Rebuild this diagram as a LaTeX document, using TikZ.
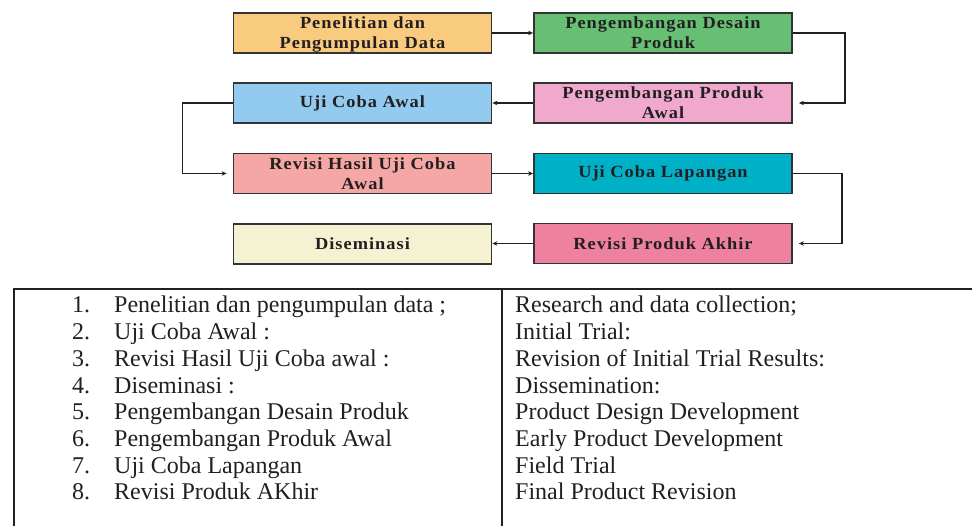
\documentclass[tikz,border=0pt]{standalone}
\usepackage{fontspec}
\setmainfont{Liberation Serif}
\newfontfamily\boxfont{Liberation Serif}[LetterSpace=6,FakeStretch=1.08]
\usetikzlibrary{arrows.meta}
\definecolor{cA}{HTML}{F8CB7F}
\definecolor{cB}{HTML}{66BF73}
\definecolor{cC}{HTML}{92CBEF}
\definecolor{cD}{HTML}{F0A9CD}
\definecolor{cE}{HTML}{F4A7A4}
\definecolor{cF}{HTML}{00B0C7}
\definecolor{cG}{HTML}{F4F2D3}
\definecolor{cH}{HTML}{EE819F}
\definecolor{boxline}{HTML}{333333}
\definecolor{txt}{HTML}{231F20}
\begin{document}
\begin{tikzpicture}[x=1pt,y=-1pt,
  stepbox/.style={draw=boxline, line width=1.8pt, minimum width=258pt, minimum height=40pt,
    inner sep=0pt, align=center, text=txt,
    font=\boxfont\bfseries\fontsize{17}{20}\selectfont},
  conn/.style={line width=1.2pt, draw=txt, -{Stealth[length=5pt,width=4.5pt]}},
  tableline/.style={line width=2pt, draw=txt},
  tabtext/.style={anchor=base west, inner sep=0pt, text=txt, font=\fontsize{24}{27}\selectfont}]
\useasboundingbox (0,0) rectangle (972,526);
\fill[white] (0,0) rectangle (972,526);
% boxes
\node[stepbox, fill=cA, text depth=0pt] (b1) at (362.5,33) {Penelitian dan\\Pengumpulan Data};
\node[stepbox, fill=cB] (b2) at (663,33) {Pengembangan Desain\\Produk};
\node[stepbox, fill=cC] (b3) at (362.5,103) {Uji Coba Awal};
\node[stepbox, fill=cD] (b4) at (663,103) {Pengembangan Produk\\Awal};
\node[stepbox, fill=cE] (b5) at (362.5,173.5) {Revisi Hasil Uji Coba\\Awal};
\node[stepbox, fill=cF] (b6) at (663,173.5) {Uji Coba Lapangan};
\node[stepbox, fill=cG] (b7) at (362.5,244) {Diseminasi};
\node[stepbox, fill=cH] (b8) at (663,243.5) {Revisi Produk Akhir};
% connectors
\draw[conn] (b1.east) -- (b2.west);
\draw[conn, shorten >=6pt] (b2.east) -- ++(52,0) |- (b4.east);
\draw[conn] (b4.west) -- (b3.west -| b3.east);
\draw[conn, shorten >=6pt] (b3.west) -- ++(-50,0) |- (b5.west);
\draw[conn] (b5.east) -- (b6.west);
\draw[conn, shorten >=6pt] (b6.east) -- ++(49,0) |- (b8.east);
\draw[conn] (b8.west) -- (b8.west -| b7.east);
% table
\draw[tableline] (972,289) -- (14,289) -- (14,526);
\draw[tableline] (502,289) -- (502,526);
\foreach \n/\y/\a/\b in {
  1/313/{Penelitian dan pengumpulan data ;}/{Research and data collection;},
  2/339.7/{Uji Coba Awal :}/{Initial Trial:},
  3/366.4/{Revisi Hasil Uji Coba awal :}/{Revision of Initial Trial Results:},
  4/393.1/{Diseminasi :}/{Dissemination:},
  5/419.8/{Pengembangan Desain Produk}/{Product Design Development},
  6/446.5/{Pengembangan Produk Awal}/{Early Product Development},
  7/473.2/{Uji Coba Lapangan}/{Field Trial},
  8/499.9/{Revisi Produk AKhir}/{Final Product Revision}} {
  \node[tabtext] (n\n) at (72,\y) {\n.};
  \node[tabtext] (l\n) at (114,\y) {\a};
  \node[tabtext] (r\n) at (515,\y) {\b};
}
\end{tikzpicture}
\end{document}
